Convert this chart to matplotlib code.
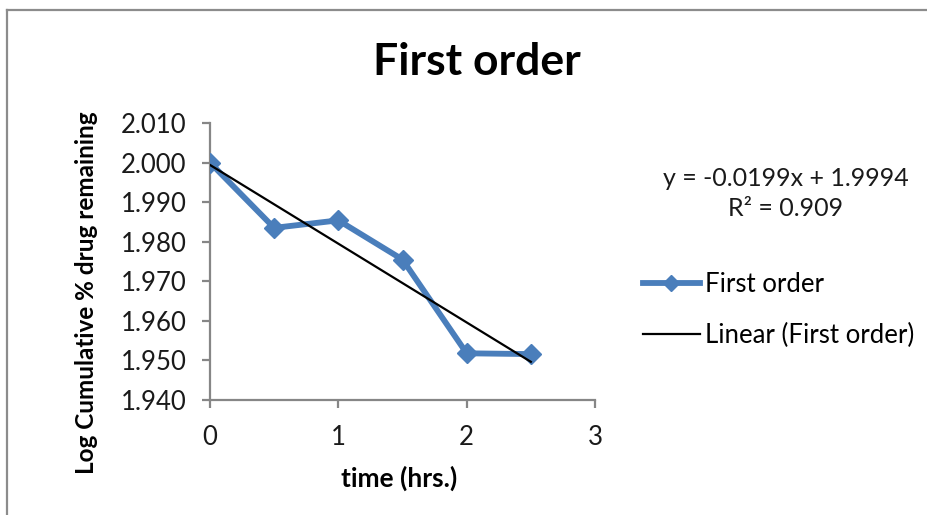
import matplotlib
matplotlib.use("Agg")
import matplotlib.pyplot as plt
from matplotlib.lines import Line2D
import numpy as np

plt.rcParams['font.family'] = ['Lato', 'DejaVu Sans']

# Release data: time (hours) vs log cumulative % drug remaining
time_hrs = [0, 0.5, 1, 1.5, 2, 2.5]
log_remaining = [2.000, 1.9835, 1.9854, 1.9755, 1.9518, 1.9516]

# Linear trendline coefficients
slope = -0.0199
intercept = 1.9994
r_squared = 0.909

y_ticks = [1.940, 1.950, 1.960, 1.970, 1.980, 1.990, 2.000, 2.010]
x_ticks = [0, 1, 2, 3]

W, H = 927, 515
fig = plt.figure(figsize=(W / 100, H / 100), dpi=100)
fig.patch.set_facecolor('white')

# Chart-area border (left and top edges visible)
border_col = '#8c8c8c'
fig.add_artist(Line2D([7 / W, 7 / W], [0, 1 - 10 / H], transform=fig.transFigure,
                      color=border_col, lw=1.6))
fig.add_artist(Line2D([7 / W, 1], [1 - 10 / H, 1 - 10 / H], transform=fig.transFigure,
                      color=border_col, lw=1.6))

ax = fig.add_axes([210 / W, 1 - 400 / H, (595 - 210) / W, (400 - 123) / H])

blue = '#4a7ebb'
ax.plot(time_hrs, log_remaining, color=blue, lw=4.2, marker='D', markersize=10,
        markerfacecolor=blue, markeredgecolor=blue, label='First order', zorder=3)

xt = np.array([time_hrs[0], time_hrs[-1]])
ax.plot(xt, slope * xt + intercept, color='black', lw=1.6,
        label='Linear (First order)', zorder=4)

ax.set_xlim(0, 3)
ax.set_ylim(1.940, 2.010)
ax.set_xticks(x_ticks)
ax.set_xticklabels([str(v) for v in x_ticks])
ax.set_yticks(y_ticks)
ax.set_yticklabels([f'{v:.3f}' for v in y_ticks])

for side in ('top', 'right'):
    ax.spines[side].set_visible(False)
axis_col = '#868686'
for side in ('left', 'bottom'):
    ax.spines[side].set_color(axis_col)
    ax.spines[side].set_linewidth(1.6)
    ax.spines[side].set_zorder(2)
ax.tick_params(axis='both', direction='out', length=6, width=1.6, color=axis_col,
               labelsize=18.5, labelcolor='#1a1a1a')
ax.tick_params(axis='x', pad=12)
ax.tick_params(axis='y', pad=11)

ax.set_xlabel('time (hrs.)', fontsize=19, fontweight='bold')
ax.xaxis.set_label_coords(0.49, (400 - 478) / 277)
ax.xaxis.label.set_va('center')
ax.set_ylabel('Log Cumulative % drug remaining', fontsize=17.5, fontweight='bold')
ax.yaxis.set_label_coords((87 - 210) / 385, (400 - 293) / 277)
ax.yaxis.label.set_va('center')

fig.text(477 / W, 1 - 62 / H, 'First order', ha='center', va='center',
         fontsize=32, fontweight='bold', color='black')

fig.text(786 / W, 1 - 178 / H, f'y = {slope}x + {intercept}', ha='center',
         va='center', fontsize=18, color='#1a1a1a')
fig.text(786 / W, 1 - 209 / H, f'R² = {r_squared}', ha='center', va='center',
         fontsize=18, color='#1a1a1a')

ax.legend(loc='center left', bbox_to_anchor=(643 / W, 1 - 310 / H),
          bbox_transform=fig.transFigure, frameon=False, fontsize=18.5,
          handlelength=2.2, handletextpad=0.2, labelspacing=1.0, markerscale=0.85,
          borderaxespad=0, borderpad=0)

fig.savefig('out.png', dpi=100, facecolor='white')
